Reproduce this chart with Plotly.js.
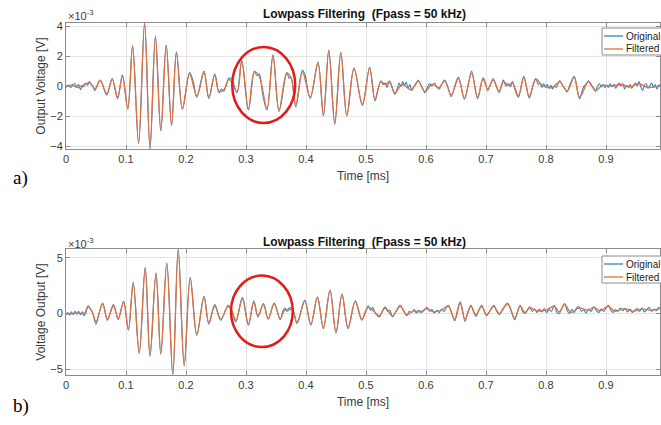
<!DOCTYPE html>
<html>
<head>
<meta charset="utf-8">
<script src="https://cdn.plot.ly/plotly-3.0.1.min.js"></script>
<style>html,body{margin:0;padding:0;background:#fff;}#chart{width:661px;height:425px;}</style>
</head>
<body>
<div id="chart"></div>
<script>
// ---------- DATA (values in units of 1e-3 V, time in ms) ----------
const xTickVals = [0, 0.1, 0.2, 0.3, 0.4, 0.5, 0.6, 0.7, 0.8, 0.9];
const xTickText = ["0", "0.1", "0.2", "0.3", "0.4", "0.5", "0.6", "0.7", "0.8", "0.9"];
const yTickValsA = [-4, -2, 0, 2, 4];
const yTickValsB = [-5, 0, 5];
const seriesNames = ["Original", "Filtered"];

// Panel a) filtered
const tA = [0,0.01,0.02,0.03,0.04,0.048,0.057,0.068,0.077,0.086,0.094,0.103,0.111,0.121,0.131,0.14,0.149,0.158,0.167,0.176,0.184,0.194,0.206,0.218,0.23,0.238,0.248,0.255,0.263,0.272,0.285,0.293,0.304,0.314,0.322,0.335,0.345,0.355,0.368,0.375,0.383,0.394,0.407,0.42,0.429,0.438,0.448,0.458,0.468,0.48,0.494,0.506,0.515,0.525,0.532,0.539,0.548,0.56,0.575,0.587,0.598,0.61,0.622,0.631,0.642,0.654,0.664,0.676,0.686,0.695,0.703,0.712,0.722,0.729,0.737,0.744,0.754,0.763,0.772,0.783,0.795,0.81,0.823,0.835,0.847,0.856,0.871,0.882,0.895,0.91,0.925,0.94,0.955,0.97,0.99];
const filtA = [0,0.05,-0.1,0.1,0.2,-0.2,0.35,-0.5,0.45,-0.75,0.65,-1.5,2.65,-3.8,4.2,-4.15,3.25,-2.95,2.7,-2.6,2.2,-1.5,0.8,-0.65,0.9,-0.75,0.72,-0.38,-0.25,0.44,-0.38,1.65,-1.55,0.95,0.65,-1.5,2.0,-1.6,0.85,0.55,-1.25,0.95,-0.75,1.5,-1.95,2.35,-2.5,2.2,-1.95,1.15,-1.2,1.18,-0.9,0.3,0.1,0.25,-0.45,0.1,-0.25,0.33,-0.38,0.1,-0.1,0.33,-0.6,0.5,-0.8,0.85,-0.75,0.45,-0.2,0.4,-0.35,0.3,0.05,0.2,-0.65,0.58,-0.7,0.45,0.0,-0.1,0.28,-0.35,0.58,-0.75,0.3,-0.3,0.05,0.0,0.1,-0.05,0.15,-0.1,0.05];

// Panel a) original (noisy)
const tAo = [0,0.004,0.008,0.012,0.015,0.018,0.021,0.024,0.027,0.03,0.033,0.036,0.039,0.042,0.045,0.048,0.057,0.068,0.077,0.086,0.094,0.103,0.111,0.121,0.131,0.14,0.149,0.158,0.167,0.176,0.184,0.194,0.206,0.212,0.218,0.23,0.238,0.248,0.255,0.259,0.263,0.268,0.272,0.278,0.285,0.293,0.304,0.314,0.318,0.322,0.328,0.335,0.345,0.355,0.368,0.372,0.375,0.383,0.394,0.398,0.407,0.42,0.429,0.438,0.448,0.458,0.468,0.48,0.494,0.506,0.515,0.52,0.525,0.528,0.532,0.535,0.539,0.543,0.548,0.552,0.555,0.558,0.561,0.564,0.567,0.57,0.573,0.576,0.579,0.583,0.587,0.591,0.595,0.598,0.602,0.606,0.61,0.614,0.618,0.622,0.626,0.631,0.636,0.642,0.648,0.654,0.664,0.671,0.676,0.686,0.695,0.699,0.703,0.712,0.716,0.722,0.725,0.729,0.733,0.737,0.741,0.744,0.748,0.754,0.763,0.772,0.778,0.783,0.787,0.79,0.793,0.796,0.799,0.802,0.805,0.808,0.811,0.814,0.817,0.82,0.823,0.828,0.832,0.835,0.84,0.847,0.851,0.856,0.862,0.866,0.871,0.875,0.879,0.882,0.886,0.889,0.892,0.895,0.898,0.901,0.904,0.907,0.91,0.913,0.916,0.919,0.922,0.925,0.928,0.931,0.934,0.937,0.94,0.943,0.946,0.949,0.952,0.955,0.958,0.961,0.964,0.967,0.97,0.973,0.976,0.979,0.982,0.985,0.988,0.99];
const origA = [-0.1,0.05,-0.1,0.1,0.15,-0.05,0.1,-0.25,-0.05,0.0,0.2,0.05,0.3,0.1,0.0,-0.3,0.4,-0.6,0.5,-0.85,0.75,-1.55,2.7,-3.85,4.2,-4.2,3.35,-3.0,2.75,-2.65,2.3,-1.55,0.9,0.3,-0.75,1.0,-0.85,0.8,-0.45,-0.2,-0.35,0.2,0.55,0.3,-0.45,1.7,-1.6,1.0,0.7,0.8,-0.6,-1.6,2.1,-1.7,0.9,0.5,0.6,-1.4,1.05,0.8,-0.85,1.6,-2.0,2.4,-2.55,2.25,-2.0,1.2,-1.3,1.25,-1.0,-0.2,0.35,0.1,0.2,-0.1,0.35,0.0,-0.55,-0.2,0.2,-0.05,0.3,0.05,0.25,-0.15,0.1,-0.3,-0.1,0.1,0.4,0.1,-0.2,-0.45,-0.1,0.15,0.0,0.2,-0.1,-0.2,0.1,0.4,0.0,-0.7,0.0,0.6,-0.9,0.2,1.0,-0.85,0.55,0.2,-0.3,0.5,0.1,-0.45,-0.1,0.4,0.0,0.15,-0.05,0.3,-0.2,-0.75,0.65,-0.8,0.0,0.5,0.1,0.2,-0.1,0.15,-0.05,0.1,-0.15,0.05,-0.2,0.0,-0.1,0.15,0.35,0.0,-0.2,-0.4,0.1,0.65,0.0,-0.85,-0.1,0.1,0.35,0.05,-0.1,-0.35,0.0,0.15,-0.05,0.1,-0.1,0.05,-0.1,0.15,-0.05,0.1,-0.15,0.05,0.2,0.0,0.15,-0.2,0.05,-0.1,0.1,-0.15,0.05,0.2,0.0,0.3,-0.05,-0.3,0.05,0.15,-0.15,0.0,0.2,-0.1,0.1,-0.2,0.05,0.1];

// Panel b) filtered
const tB = [0,0.01,0.02,0.03,0.037,0.044,0.05,0.061,0.069,0.079,0.087,0.096,0.104,0.112,0.122,0.132,0.14,0.15,0.158,0.168,0.178,0.187,0.197,0.207,0.218,0.23,0.238,0.248,0.258,0.27,0.276,0.283,0.294,0.304,0.313,0.32,0.329,0.337,0.347,0.357,0.365,0.371,0.377,0.385,0.398,0.408,0.419,0.429,0.44,0.45,0.46,0.47,0.482,0.493,0.504,0.513,0.522,0.532,0.544,0.557,0.568,0.58,0.59,0.602,0.612,0.625,0.637,0.648,0.657,0.665,0.675,0.683,0.693,0.701,0.713,0.722,0.736,0.748,0.757,0.765,0.773,0.785,0.8,0.814,0.822,0.831,0.842,0.855,0.87,0.88,0.89,0.904,0.915,0.93,0.945,0.96,0.975,0.99];
const filtB = [-0.05,0.0,0.05,0.0,0.6,0.1,-0.7,0.85,-0.5,0.7,-0.45,1.0,-1.4,2.7,-3.5,4.1,-3.75,3.6,-3.55,4.5,-5.45,5.7,-4.6,3.2,-1.85,1.45,-0.8,0.65,-0.5,0.65,0.3,-0.6,1.3,-0.95,1.0,-0.2,0.8,-0.45,0.85,-0.45,0.35,0.3,0.4,-0.75,1.1,-0.95,1.4,-1.25,2.05,-1.65,1.7,-1.25,1.1,-0.5,0.55,0.2,-0.2,0.5,-0.2,0.65,-0.1,0.25,0.15,0.45,0.15,0.3,0.65,-0.5,0.95,-0.5,0.65,-0.1,0.65,-0.1,0.65,0.0,0.85,-0.4,0.65,0.1,0.5,0.25,0.3,0.65,0.15,0.8,0.1,0.5,0.3,0.55,0.25,0.65,0.2,0.45,0.2,0.4,0.3,0.45];

// Panel b) original (noisy)
const tBo = [0,0.003,0.006,0.009,0.012,0.015,0.018,0.021,0.024,0.027,0.03,0.033,0.037,0.044,0.05,0.055,0.061,0.065,0.069,0.074,0.079,0.083,0.087,0.096,0.104,0.112,0.122,0.132,0.14,0.15,0.158,0.168,0.178,0.187,0.197,0.207,0.218,0.23,0.238,0.248,0.258,0.27,0.276,0.283,0.294,0.304,0.313,0.32,0.329,0.337,0.347,0.357,0.362,0.365,0.368,0.371,0.377,0.385,0.398,0.408,0.419,0.429,0.44,0.45,0.46,0.47,0.482,0.487,0.493,0.499,0.504,0.508,0.511,0.515,0.522,0.527,0.532,0.536,0.54,0.544,0.55,0.557,0.562,0.568,0.572,0.576,0.58,0.584,0.588,0.592,0.596,0.602,0.606,0.61,0.614,0.618,0.622,0.626,0.63,0.637,0.643,0.648,0.652,0.657,0.661,0.665,0.67,0.675,0.679,0.683,0.688,0.693,0.697,0.701,0.707,0.713,0.717,0.722,0.728,0.736,0.742,0.748,0.752,0.757,0.761,0.765,0.769,0.773,0.777,0.781,0.785,0.789,0.793,0.797,0.801,0.805,0.809,0.814,0.818,0.822,0.826,0.831,0.835,0.839,0.843,0.847,0.851,0.855,0.859,0.863,0.867,0.871,0.875,0.88,0.884,0.888,0.892,0.896,0.9,0.904,0.908,0.912,0.916,0.92,0.924,0.928,0.932,0.936,0.94,0.944,0.948,0.952,0.956,0.96,0.964,0.968,0.972,0.976,0.98,0.984,0.988,0.99];
const origB = [-0.1,0.1,-0.15,0.15,-0.1,0.2,-0.05,0.2,-0.1,0.15,-0.2,0.1,0.7,0.1,-0.95,0.0,0.95,0.2,-0.6,0.1,0.8,0.2,-0.55,1.1,-1.5,2.8,-3.6,4.15,-3.85,3.65,-3.65,4.55,-5.5,5.75,-4.7,3.25,-1.95,1.55,-0.95,0.8,-0.6,0.75,0.3,-0.75,1.45,-1.05,1.15,-0.3,0.9,-0.5,0.95,-0.55,0.3,0.5,0.2,0.45,0.5,-0.9,1.2,-1.05,1.5,-1.35,2.1,-1.75,1.75,-1.35,1.15,0.4,-0.6,0.2,0.7,0.3,0.55,0.1,-0.3,0.2,0.6,0.2,0.3,-0.3,0.2,0.75,0.3,-0.2,0.2,0.1,0.35,0.05,0.3,0.1,0.25,0.55,0.2,0.35,0.05,0.3,0.1,0.4,0.2,0.75,0.0,-0.65,0.2,1.05,0.2,-0.7,0.2,0.75,0.2,-0.25,0.3,0.75,0.2,-0.2,0.3,0.75,0.3,-0.1,0.4,0.95,0.2,-0.55,0.1,0.75,0.2,0.0,0.3,0.6,0.2,0.4,0.1,0.4,0.15,0.45,0.1,0.35,0.2,0.75,0.1,0.0,0.4,0.9,0.3,0.0,0.35,0.1,0.5,0.6,0.2,0.35,0.05,0.4,0.2,0.6,0.25,0.1,0.4,0.2,0.5,0.75,0.3,0.1,0.35,0.2,0.5,0.25,0.45,0.15,0.4,0.1,0.3,0.45,0.2,0.5,0.15,0.35,0.55,0.2,0.4,0.25,0.55,0.4];

// ---------- STYLE ----------
const BLUE = '#2f86c8';
const ORANGE = '#e0703e';
const FONT = 'Liberation Sans, Arial, Helvetica, sans-serif';
const AX = '#8c8c8c';
const GRID = '#e4e4e4';
const TXT = '#3a3a3a';
const W = 661, H = 425;
const px = v => v / W;          // pixel -> paper x
const py = v => 1 - v / H;      // pixel -> paper y

function trace(x, y, name, color, xa, ya, w) {
  return {x: x, y: y, type: 'scatter', mode: 'lines', name: name,
    line: {color: color, width: w, shape: 'spline', smoothing: 1},
    xaxis: xa, yaxis: ya, showlegend: false, hoverinfo: 'skip'};
}

const data = [
  trace(tAo, origA, seriesNames[0], BLUE, 'x', 'y', 1.1),
  trace(tA, filtA, seriesNames[1], ORANGE, 'x', 'y', 1.3),
  trace(tBo, origB, seriesNames[0], BLUE, 'x2', 'y2', 1.1),
  trace(tB, filtB, seriesNames[1], ORANGE, 'x2', 'y2', 1.3)
];

const tickFont = {family: FONT, size: 11, color: TXT};
function xAxis(anchor) {
  return {domain: [px(66), px(660)], anchor: anchor, range: [0, 0.99],
    tickvals: xTickVals, ticktext: xTickText, ticks: 'inside', ticklen: 4, tickcolor: AX,
    showline: true, linecolor: AX, linewidth: 1, mirror: 'ticks',
    showgrid: true, gridcolor: GRID, zeroline: false, tickfont: tickFont,
    title: {text: 'Time [ms]', font: {family: FONT, size: 12, color: TXT}, standoff: 7}};
}
function yAxis(anchor, dom, rng, tv, title) {
  return {domain: dom, anchor: anchor, range: rng, tickvals: tv,
    ticks: 'inside', ticklen: 4, tickcolor: AX,
    showline: true, linecolor: AX, linewidth: 1, mirror: 'ticks',
    showgrid: true, gridcolor: GRID, zeroline: false, tickfont: tickFont,
    title: {text: title, font: {family: FONT, size: 12, color: TXT}, standoff: 2}};
}

// manual MATLAB-style legend boxes (box partly off the right edge, as in the reference)
function legendParts(top, rowA, rowB) {
  const shapes = [
    {type: 'rect', xref: 'paper', yref: 'paper', x0: px(602), x1: px(675), y0: py(top + 27), y1: py(top),
     line: {color: AX, width: 1}, fillcolor: '#ffffff', layer: 'above'},
    {type: 'line', xref: 'paper', yref: 'paper', x0: px(604), x1: px(623), y0: py(rowA), y1: py(rowA),
     line: {color: BLUE, width: 1.3}, layer: 'above'},
    {type: 'line', xref: 'paper', yref: 'paper', x0: px(604), x1: px(623), y0: py(rowB), y1: py(rowB),
     line: {color: ORANGE, width: 1.3}, layer: 'above'}
  ];
  const anns = [
    {text: seriesNames[0], xref: 'paper', yref: 'paper', x: px(624), y: py(rowA), xanchor: 'left', yanchor: 'middle',
     showarrow: false, font: {family: FONT, size: 10, color: '#222'}},
    {text: seriesNames[1], xref: 'paper', yref: 'paper', x: px(624), y: py(rowB), xanchor: 'left', yanchor: 'middle',
     showarrow: false, font: {family: FONT, size: 10, color: '#222'}}
  ];
  return {shapes, anns};
}
const legA = legendParts(28, 36, 49);
const legB = legendParts(256, 264, 277);

const TITLE = 'Lowpass Filtering  (Fpass = 50 kHz)';
const layout = {
  width: W, height: H,
  margin: {l: 0, r: 0, t: 0, b: 0, autoexpand: false},
  paper_bgcolor: '#ffffff', plot_bgcolor: '#ffffff',
  showlegend: false,
  xaxis: xAxis('y'),
  yaxis: yAxis('x', [py(149), py(23)], [-4.2, 4.2], yTickValsA, 'Output Voltage [V]'),
  xaxis2: xAxis('y2'),
  yaxis2: yAxis('x2', [py(375), py(249)], [-5.5, 5.78], yTickValsB, 'Voltage Output [V]'),
  annotations: [
    {text: '<b>' + TITLE + '</b>', xref: 'paper', yref: 'paper', x: px(364), y: py(14),
     xanchor: 'center', yanchor: 'middle', showarrow: false, font: {family: FONT, size: 12, color: '#111'}},
    {text: '<b>' + TITLE + '</b>', xref: 'paper', yref: 'paper', x: px(364), y: py(242),
     xanchor: 'center', yanchor: 'middle', showarrow: false, font: {family: FONT, size: 12, color: '#111'}},
    {text: '×10<sup>-3</sup>', xref: 'paper', yref: 'paper', x: px(66), y: py(15),
     xanchor: 'left', yanchor: 'middle', showarrow: false, font: {family: FONT, size: 11, color: TXT}},
    {text: '×10<sup>-3</sup>', xref: 'paper', yref: 'paper', x: px(66), y: py(243),
     xanchor: 'left', yanchor: 'middle', showarrow: false, font: {family: FONT, size: 11, color: TXT}},
    {text: 'a)', xref: 'paper', yref: 'paper', x: px(11), y: py(178),
     xanchor: 'left', yanchor: 'middle', showarrow: false, font: {family: 'Liberation Serif, Times New Roman, serif', size: 19, color: '#000'}},
    {text: 'b)', xref: 'paper', yref: 'paper', x: px(11), y: py(406),
     xanchor: 'left', yanchor: 'middle', showarrow: false, font: {family: 'Liberation Serif, Times New Roman, serif', size: 19, color: '#000'}}
  ].concat(legA.anns, legB.anns),
  shapes: [
    {type: 'circle', xref: 'x', yref: 'y', x0: 0.277, x1: 0.382, y0: -2.47, y1: 2.6,
     line: {color: '#e31b1b', width: 2.5}},
    {type: 'circle', xref: 'x2', yref: 'y2', x0: 0.275, x1: 0.378, y0: -3.0, y1: 3.4,
     line: {color: '#e31b1b', width: 2.5}}
  ].concat(legA.shapes, legB.shapes)
};

Plotly.newPlot('chart', data, layout, {staticPlot: true, displayModeBar: false});
</script>
</body>
</html>
